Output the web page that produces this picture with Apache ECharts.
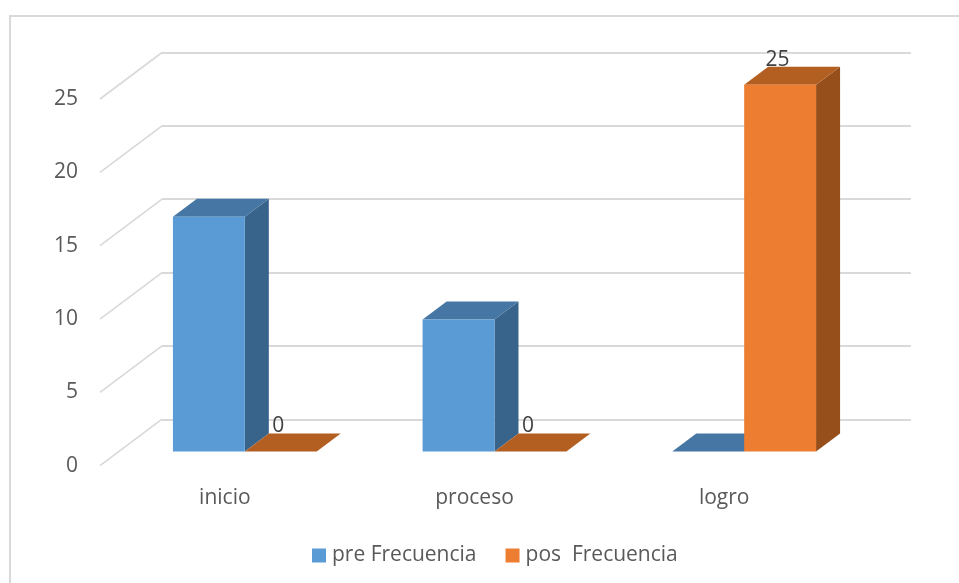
<!DOCTYPE html>
<html>
<head>
<meta charset="utf-8">
<style>html,body{margin:0;padding:0;background:#fff}#chart{width:959px;height:583px}</style>
<script src="https://cdn.jsdelivr.net/npm/echarts@6/dist/echarts.min.js"></script>
</head>
<body>
<div id="chart"></div>
<script>
// Frequencies per achievement level
const categories = ['inicio', 'proceso', 'logro'];
const preValues = [16, 9, 0];
const posValues = [0, 0, 25];
const preName = 'pre Frecuencia';
const posName = 'pos  Frecuencia';
const wallTicks = [0, 5, 10, 15, 20, 25];

const FONT = '"Open Sans", sans-serif';
const GRID_COLOR = '#d9d9d9';
const TEXT_COLOR = '#595959';

// Oblique projection: floor edge -> bar front plane -> bar back -> back wall
const FRONT_SHIFT = [20, -14.3];
const BAR_DEPTH = [24, -18];
const WALL_SHIFT = [62, -46.5];
const BAR_SHARE = 0.288;

function prism(side, faces, labelled) {
  return function (params, api) {
    const base = api.coord([api.value(0), 0]);
    const top = api.coord([api.value(0), api.value(1)]);
    const w = api.size([1, 0])[0] * BAR_SHARE;
    const x0 = base[0] + FRONT_SHIFT[0] + (side < 0 ? -w : 0);
    const x1 = x0 + w;
    const yb = base[1] + FRONT_SHIFT[1];
    const yt = top[1] + FRONT_SHIFT[1];
    const dx = BAR_DEPTH[0], dy = BAR_DEPTH[1];
    const poly = (points, fill) => ({
      type: 'polygon', shape: { points: points }, style: { fill: fill }
    });
    const children = [
      poly([[x1, yb], [x1 + dx, yb + dy], [x1 + dx, yt + dy], [x1, yt]], faces.side),
      poly([[x0, yt], [x0 + dx, yt + dy], [x1 + dx, yt + dy], [x1, yt]], faces.top)
    ];
    if (yb - yt > 0.5) {
      children.push(poly([[x0, yb], [x1, yb], [x1, yt], [x0, yt]], faces.front));
    }
    if (labelled) {
      children.push({
        type: 'text',
        z2: 10,
        style: {
          x: (x0 + x1) / 2 - 2.5, y: yt - 25,
          text: String(api.value(1)),
          font: '21px ' + FONT, fill: '#404040',
          align: 'center', verticalAlign: 'middle'
        }
      });
    }
    return { type: 'group', children: children };
  };
}

function sideWall(params, api) {
  const half = api.size([1, 0])[0] / 2;
  const p = api.coord([0, api.value(1)]);
  const x = p[0] - half;
  return {
    type: 'line',
    shape: { x1: x, y1: p[1], x2: x + WALL_SHIFT[0], y2: p[1] + WALL_SHIFT[1] },
    style: { stroke: GRID_COLOR, lineWidth: 1.6 }
  };
}

const chart = echarts.init(document.getElementById('chart'), null, { renderer: 'canvas' });
chart.setOption({
  animation: false,
  backgroundColor: '#ffffff',
  textStyle: { fontFamily: FONT },
  graphic: [{
    type: 'rect',
    silent: true,
    z: -1,
    shape: { x: 10, y: 16, width: 1100, height: 800 },
    style: { fill: 'none', stroke: GRID_COLOR, lineWidth: 2 }
  }],
  legend: {
    data: [
      { name: preName, icon: 'rect', itemStyle: { color: '#5b9bd5' } },
      { name: posName, icon: 'rect', itemStyle: { color: '#ed7d31' } }
    ],
    left: 312,
    top: 545,
    itemWidth: 14,
    itemHeight: 14,
    itemGap: 29,
    padding: 0,
    selectedMode: false,
    textStyle: { color: TEXT_COLOR, fontSize: 21, fontFamily: FONT, padding: [2, 0, 0, 1] }
  },
  grid: [
    // back wall
    { left: 162, top: 52.3, width: 749, height: 367 },
    // front edge of the floor, carries the axis labels
    { left: 100, top: 99, width: 749, height: 366.7 }
  ],
  xAxis: [
    { gridIndex: 0, type: 'category', data: categories, axisLine: { show: false }, axisTick: { show: false }, axisLabel: { show: false } },
    { gridIndex: 1, type: 'category', data: categories, axisLine: { show: false }, axisTick: { show: false },
      axisLabel: { color: TEXT_COLOR, fontSize: 21, fontFamily: FONT, margin: 22 } }
  ],
  yAxis: [
    { gridIndex: 0, type: 'value', min: 0, max: 25, interval: 5, axisLine: { show: false }, axisTick: { show: false }, axisLabel: { show: false },
      splitLine: { show: true, lineStyle: { color: GRID_COLOR, width: 2 } } },
    { gridIndex: 1, type: 'value', min: 0, max: 25, interval: 5, axisLine: { show: false }, axisTick: { show: false }, splitLine: { show: false },
      axisLabel: { color: TEXT_COLOR, fontSize: 21, fontFamily: FONT, margin: 22, padding: [6, 0, 0, 0] } }
  ],
  series: [
    {
      type: 'custom', name: 'wall', xAxisIndex: 1, yAxisIndex: 1, silent: true, z: 1,
      data: wallTicks.map(t => [0, t]),
      renderItem: sideWall
    },
    {
      type: 'custom', name: preName, xAxisIndex: 1, yAxisIndex: 1, z: 2,
      data: preValues.map((v, i) => [i, v]),
      encode: { x: 0, y: 1 },
      renderItem: prism(-1, { front: '#5b9bd5', top: '#4676a3', side: '#38648b' }, false)
    },
    {
      type: 'custom', name: posName, xAxisIndex: 1, yAxisIndex: 1, z: 3,
      data: posValues.map((v, i) => [i, v]),
      encode: { x: 0, y: 1 },
      renderItem: prism(1, { front: '#ed7d31', top: '#b45f22', side: '#964f1b' }, true)
    }
  ]
});
</script>
</body>
</html>
